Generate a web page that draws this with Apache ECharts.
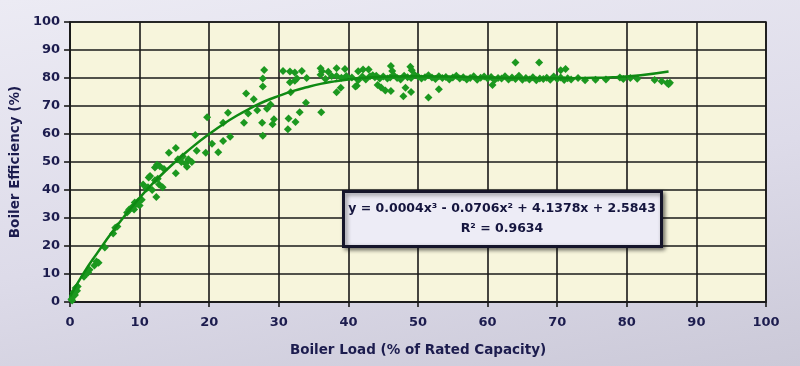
<!DOCTYPE html>
<html>
<head>
<meta charset="utf-8">
<script src="https://cdn.jsdelivr.net/npm/echarts@6/dist/echarts.min.js"></script>
<style>
html,body{margin:0;padding:0;}
body{background:linear-gradient(170deg,#ecebf4 0%,#dddbe9 55%,#cbc9d8 100%);}
#chart{width:800px;height:366px;}
</style>
</head>
<body>
<div id="chart"></div>
<script>
// Measured boiler load (% of rated capacity)
const loadPct = [
  0.2,0.4,0.5,0.7,0.8,1.0,1.1,0.3,2.0,2.3,2.6,2.8,3.5,3.8,4.1,5.0,6.2,6.5,6.8,
  8.2,8.5,8.8,9.0,9.3,9.6,9.8,10.0,10.3,9.2,10.5,11.0,11.2,11.8,12.2,12.4,12.6,12.8,13.3,
  12.2,12.5,12.9,13.5,11.5,11.3,14.2,15.2,15.2,15.5,16.0,16.2,16.6,16.8,17.0,17.5,
  18.0,18.2,19.5,19.7,20.4,21.3,22.0,22.0,22.7,23.0,25.0,
  25.3,26.4,26.9,25.6,27.6,29.3,29.1,27.7,27.9,27.7,27.7,28.3,28.8,
  30.6,31.6,32.3,33.3,32.6,34.0,31.6,32.3,31.7,33.9,33.0,31.4,32.4,31.3,36.1,
  36.0,36.2,37.1,38.3,39.5,36.0,36.7,37.6,38.3,39.0,39.7,38.9,38.3,
  41.4,42.1,42.9,43.1,43.8,41.4,41.2,41.0,44.7,46.1,45.6,44.2,45.3,47.9,48.2,49.0,51.5,53.0,
  46.1,46.3,48.9,49.1,64.0,67.4,70.5,71.2,60.7,
  40.5,42.0,42.5,43.5,44.0,44.5,45.0,46.0,46.5,47.0,47.5,48.0,48.5,49.0,49.5,50.0,50.5,
  51.0,51.5,52.0,52.5,53.0,53.5,54.0,54.5,55.0,55.5,56.0,56.5,57.0,57.5,58.0,58.5,59.0,
  59.5,60.0,60.5,61.0,61.5,62.0,62.5,63.0,63.5,64.0,64.5,65.0,65.5,66.0,66.5,67.0,67.5,
  68.0,68.5,69.0,69.5,70.0,70.5,71.0,71.5,72.0,73.0,74.0,75.5,77.0,79.0,79.5,80.5,81.5,
  84.0,85.0,85.8,86.2,86.0
];
// Measured boiler efficiency (%)
const efficiency = [
  1.0,2.0,3.5,2.5,5.0,4.0,5.5,0.5,9.0,10.0,10.5,11.5,13.0,14.5,14.0,19.5,24.5,26.5,27.0,
  32.0,33.0,33.5,34.0,35.5,35.0,36.0,34.5,36.5,33.0,42.0,40.5,41.0,40.0,43.5,37.5,44.0,42.0,41.0,
  48.0,49.0,48.5,47.5,45.0,44.5,53.3,55.0,46.0,51.0,50.0,52.0,49.5,48.3,51.0,50.0,
  59.6,54.0,53.3,66.0,56.5,53.5,57.5,64.0,67.6,59.0,64.0,
  74.5,72.4,68.5,67.3,64.0,65.3,63.5,59.4,82.9,79.8,77.0,69.0,70.5,
  82.5,82.3,82.0,82.5,79.8,80.0,78.5,79.0,74.9,71.2,67.8,65.5,64.3,61.7,67.8,
  83.5,82.4,82.2,83.5,83.2,81.2,79.6,80.7,80.7,80.1,80.7,76.5,74.9,
  82.4,83.0,83.0,80.6,80.3,79.2,77.2,77.0,76.6,75.4,79.8,77.5,75.5,73.5,76.5,75.0,73.0,76.0,
  84.3,82.5,84.0,82.8,85.5,85.5,82.8,83.2,77.5,
  80.2,80.5,79.5,81.0,80.8,79.8,80.5,80.2,81.0,80.0,79.5,80.8,80.3,80.0,81.2,80.5,79.8,
  80.3,81.0,80.2,79.6,80.6,80.0,80.4,79.5,80.2,80.8,79.8,80.3,79.5,80.0,80.6,79.4,80.1,
  80.5,79.8,80.4,79.3,80.0,79.8,80.6,79.5,80.2,79.6,80.8,79.4,80.0,79.5,80.3,79.2,79.8,
  79.6,80.1,79.4,80.5,79.6,80.2,79.3,79.9,79.5,80.0,79.2,79.4,79.5,80.2,79.6,80.0,79.7,
  79.3,78.8,78.2,78.3,77.8
];
// Polynomial trendline
const trendX = [0,2,4,6,8,10,12,14,16,18,20,22,24,26,28,30,32,34,36,38,40,43,46,50,54,58,62,66,70,74,78,82,86];
const trendY = [2,10.5,17.8,24.8,31.2,37.2,42.6,47.5,52,56.2,60,63.5,66.6,69.3,71.7,73.6,75.3,76.7,77.9,78.8,79.5,80.2,80.5,80.6,80.5,80.3,80.1,80,79.9,80,80.3,81,82.3];
const axisTicks = [0,10,20,30,40,50,60,70,80,90,100];
const equationText = 'y = 0.0004x\u00B3 - 0.0706x\u00B2 + 4.1378x + 2.5843';
const r2Text = 'R\u00B2 = 0.9634';

const chart = echarts.init(document.getElementById('chart'), null, {renderer:'canvas'});
const scatterData = loadPct.map((x,i)=>[x, efficiency[i]]);
const trendData = trendX.map((x,i)=>[x, trendY[i]]);
const labelStyle = {color:'#1c1c4e', fontFamily:'DejaVu Sans', fontWeight:'bold', fontSize:13};
const lineStyle = {color:'#1a1a1a', width:1.6};

chart.setOption({
  backgroundColor:'transparent',
  animation:false,
  grid:{left:64, right:34, top:22, bottom:64, show:true, backgroundColor:'#f7f5dc', borderColor:'#1a1a1a', borderWidth:1.6},
  xAxis:{
    type:'value', min:axisTicks[0], max:axisTicks[axisTicks.length-1], interval:10,
    name:'Boiler Load (% of Rated Capacity)', nameLocation:'middle', nameGap:41,
    nameTextStyle:{...labelStyle, fontSize:13.5},
    axisLine:{lineStyle:lineStyle}, axisTick:{show:true, length:5, lineStyle:lineStyle},
    axisLabel:{...labelStyle, margin:14},
    splitLine:{show:true, lineStyle:lineStyle}
  },
  yAxis:{
    type:'value', min:axisTicks[0], max:axisTicks[axisTicks.length-1], interval:10,
    name:'Boiler Efficiency (%)', nameLocation:'middle', nameGap:47,
    nameTextStyle:{...labelStyle, fontSize:13.5},
    axisLine:{show:true, lineStyle:lineStyle}, axisTick:{show:true, length:6, lineStyle:lineStyle},
    axisLabel:{...labelStyle, margin:10},
    splitLine:{show:true, lineStyle:lineStyle}
  },
  series:[
    {type:'scatter', data:scatterData, symbol:'diamond', symbolSize:8, itemStyle:{color:'#1b981f', opacity:1}, z:3},
    {type:'line', data:trendData, smooth:true, showSymbol:false, lineStyle:{color:'#0f8a13', width:2.5}, z:4}
  ],
  graphic:[
    {type:'rect', left:342, top:190, shape:{width:318, height:55},
     style:{fill:'#edecf6', stroke:'#15152a', lineWidth:3, shadowBlur:4, shadowOffsetX:2, shadowOffsetY:2, shadowColor:'rgba(0,0,0,0.45)'}, z:10},
    {type:'text', x:502, y:209, style:{text:equationText, fill:'#15153e', font:'bold 12.5px "DejaVu Sans"', align:'center', verticalAlign:'middle'}, z:11},
    {type:'text', x:502, y:229, style:{text:r2Text, fill:'#15153e', font:'bold 12.5px "DejaVu Sans"', align:'center', verticalAlign:'middle'}, z:11}
  ]
});
</script>
</body>
</html>
